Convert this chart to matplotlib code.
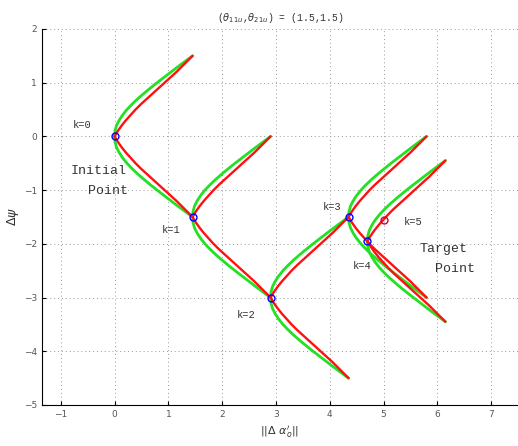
import matplotlib

matplotlib.use("Agg")
import matplotlib.pyplot as plt
import numpy as np

# iterates k=0..5
node_x = [0.0, 1.45, 2.9, 4.35, 4.7, 5.0]
node_y = [0.0, -1.5, -3.0, -1.5, -1.95, -1.55]
node_labels = ["k=0", "k=1", "k=2", "k=3", "k=4", "k=5"]
label_x = [-0.6, 1.06, 2.45, 4.05, 4.6, 5.55]
label_y = [0.22, -1.75, -3.32, -1.32, -2.42, -1.6]

# one branch shape (offset from its start node)
branch_dy = [0.0, 0.1, 0.2, 0.3, 0.4, 0.5, 0.6, 0.7, 0.8, 0.9, 1.0, 1.1, 1.2, 1.3, 1.4, 1.5]
green_dx = [0.0, 0.008, 0.035, 0.085, 0.15, 0.23, 0.325, 0.43, 0.545, 0.665, 0.79,
            0.92, 1.05, 1.18, 1.315, 1.45]
red_dx = [0.0, 0.06, 0.13, 0.21, 0.3, 0.39, 0.49, 0.6, 0.71, 0.82, 0.93, 1.04, 1.15,
          1.25, 1.35, 1.45]

# branches: start node index, +1 upward / -1 downward
branch_node = [0, 0, 1, 1, 2, 2, 3, 3, 4, 4]
branch_dir = [1, -1, 1, -1, 1, -1, 1, -1, 1, -1]

fig = plt.figure(figsize=(5.18, 4.46), dpi=100)
ax = fig.add_axes([0.081, 0.092, 0.919, 0.843])

dy = np.array(branch_dy)
for n, s in zip(branch_node, branch_dir):
    x0, y0 = node_x[n], node_y[n]
    ax.plot(x0 + np.array(green_dx), y0 + s * dy, color="#22e022", linewidth=2.0,
            solid_capstyle="round", solid_joinstyle="round", zorder=2)
    ax.plot(x0 + np.array(red_dx), y0 + s * dy, color="#ff1010", linewidth=1.7,
            solid_capstyle="round", solid_joinstyle="round", zorder=3)

ax.plot(node_x[:5], node_y[:5], "o", markersize=5, markerfacecolor="none",
        markeredgecolor="#0000ff", markeredgewidth=1.0, linestyle="none", zorder=4)
ax.plot(node_x[5], node_y[5], "o", markersize=5, markerfacecolor="none",
        markeredgecolor="#d00030", markeredgewidth=1.0, zorder=4)

mono = "Liberation Mono"
for lbl, lx, ly in zip(node_labels, label_x, label_y):
    ax.text(lx, ly, lbl, fontsize=7.5, family=mono, color="#333333", ha="center", va="center")
ax.text(-0.3, -0.65, "Initial", fontsize=9.5, family=mono, color="#333333", ha="center", va="center")
ax.text(-0.12, -1.02, "Point", fontsize=9.5, family=mono, color="#333333", ha="center", va="center")
ax.text(6.12, -2.1, "Target", fontsize=9.5, family=mono, color="#333333", ha="center", va="center")
ax.text(6.32, -2.47, "Point", fontsize=9.5, family=mono, color="#333333", ha="center", va="center")

ax.set_xlim(-1.35, 7.5)
ax.set_ylim(-5, 2)
ax.set_xticks(range(-1, 8))
ax.set_yticks(range(-5, 3))
ax.tick_params(direction="in", length=3, labelsize=6.5, labelcolor="#555555", width=0.8)
ax.grid(True, linestyle=(0, (1, 3)), color="#999999", linewidth=0.7)
ax.spines["top"].set_visible(False)
ax.spines["right"].set_visible(False)

ax.set_title(r"($\theta_{11u}$,$\theta_{21u}$) = (1.5,1.5)", fontsize=7, family=mono,
             color="#333333", pad=6)
ax.set_xlabel(r"$||\Delta\ \alpha^{\prime}_{o}||$", fontsize=8, color="#333333")
ax.set_ylabel(r"$\Delta\psi$", fontsize=9, color="#333333")
ax.yaxis.set_label_coords(-0.045, 0.5)

fig.savefig("out.png", dpi=100)
